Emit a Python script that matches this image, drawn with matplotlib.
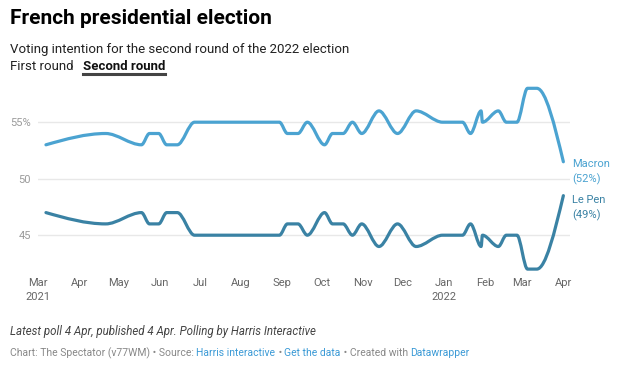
import matplotlib
matplotlib.use("Agg")
import matplotlib.pyplot as plt
import matplotlib.dates as mdates
from matplotlib.path import Path
from matplotlib.patches import PathPatch
import numpy as np
import datetime as dt

plt.rcParams['font.family'] = ['Roboto', 'DejaVu Sans']

# ---- data ----
poll_dates = ["2021-03-07", "2021-04-21", "2021-05-18", "2021-05-24", "2021-05-31",
              "2021-06-06", "2021-06-14", "2021-06-27", "2021-08-30", "2021-09-05",
              "2021-09-13", "2021-09-20", "2021-10-03", "2021-10-09", "2021-10-17",
              "2021-10-24", "2021-10-31", "2021-11-13", "2021-11-27", "2021-12-11",
              "2021-12-31", "2022-01-15", "2022-01-21", "2022-01-29", "2022-01-30",
              "2022-02-11", "2022-02-17", "2022-02-25", "2022-03-05", "2022-03-12",
              "2022-04-01"]
macron = [53, 54, 53, 54, 54, 53, 53, 55, 55, 54, 54, 55, 53, 54, 54, 55, 54, 56, 54, 56,
          55, 55, 54, 56, 55, 56, 55, 55, 58, 58, 51.5]
le_pen = [47, 46, 47, 46, 46, 47, 47, 45, 45, 46, 46, 45, 47, 46, 46, 45, 46, 44, 46, 44,
          45, 45, 46, 44, 45, 44, 45, 45, 42, 42, 48.5]
series_names = ["Macron", "Le Pen"]
end_labels = ["52%", "49%"]
y_ticks = [45, 50, 55]
y_tick_labels = ["45", "50", "55%"]
month_ticks = ["2021-03-01", "2021-04-01", "2021-05-01", "2021-06-01", "2021-07-01",
               "2021-08-01", "2021-09-01", "2021-10-01", "2021-11-01", "2021-12-01",
               "2022-01-01", "2022-02-01", "2022-03-01", "2022-04-01"]
month_labels = ["Mar\n2021", "Apr", "May", "Jun", "Jul", "Aug", "Sep", "Oct", "Nov", "Dec",
                "Jan\n2022", "Feb", "Mar", "Apr"]

C_MACRON = "#4ba3d1"
C_LEPEN = "#3a82a4"


def to_num(s):
    return mdates.date2num(dt.datetime.strptime(s, "%Y-%m-%d"))


xs = np.array([to_num(d) for d in poll_dates])


def monotone_path(x, y):
    """d3 curveMonotoneX rendered as cubic Bezier segments."""
    x = np.asarray(x, float); y = np.asarray(y, float)
    n = len(x)
    h = np.diff(x)
    s = np.diff(y) / h
    t = np.zeros(n)
    for i in range(1, n - 1):
        s0, s1 = s[i - 1], s[i]
        p = (s0 * h[i] + s1 * h[i - 1]) / (h[i - 1] + h[i])
        t[i] = (np.sign(s0) + np.sign(s1)) * min(abs(s0), abs(s1), 0.5 * abs(p))
    t[0] = (3 * s[0] - t[1]) / 2
    t[-1] = (3 * s[-1] - t[-2]) / 2
    verts = [(x[0], y[0])]
    codes = [Path.MOVETO]
    for i in range(n - 1):
        dx = (x[i + 1] - x[i]) / 3
        verts += [(x[i] + dx, y[i] + dx * t[i]),
                  (x[i + 1] - dx, y[i + 1] - dx * t[i + 1]),
                  (x[i + 1], y[i + 1])]
        codes += [Path.CURVE4] * 3
    return Path(verts, codes)


W, H = 620, 376
fig = plt.figure(figsize=(W / 100, H / 100), dpi=100)
fig.patch.set_facecolor("white")

ax_left, ax_right = 38, 570
ax_top, ax_bottom = 82.65, 274.75
ax = fig.add_axes([ax_left / W, 1 - ax_bottom / H, (ax_right - ax_left) / W,
                   (ax_bottom - ax_top) / H])
ax.set_xlim(to_num("2021-03-01"), to_num("2022-04-06"))
ax.set_ylim(41.5, 58.5)

for spine in ax.spines.values():
    spine.set_visible(False)

for yv in y_ticks:
    ax.axhline(yv, color="#e8e8e8", lw=1, zorder=0)

ax.set_yticks(y_ticks)
ax.set_yticklabels(y_tick_labels)
ax.tick_params(axis="y", length=0, pad=5, labelsize=8, labelcolor="#9a9a9a")

ax.set_xticks([to_num(d) for d in month_ticks])
ax.set_xticklabels(month_labels, linespacing=1.45)
ax.tick_params(axis="x", length=0, pad=2.5, labelsize=8, labelcolor="#666666")

for vals, col in [(macron, C_MACRON), (le_pen, C_LEPEN)]:
    patch = PathPatch(monotone_path(xs, vals), facecolor="none", edgecolor=col,
                      lw=2.3, capstyle="round", joinstyle="round", zorder=3)
    ax.add_patch(patch)

# end labels
lab_x = ax_right + 2
for name, lab, col, ypx in [(series_names[0], end_labels[0], C_MACRON, 172),
                            (series_names[1], end_labels[1], C_LEPEN, 208)]:
    fig.text(lab_x / W, 1 - ypx / H, f"{name}\n({lab})", color=col, fontsize=8,
             ha="left", va="center", linespacing=1.45)

# title / subtitle
fig.text(10 / W, 1 - 18 / H, "French presidential election", fontsize=15,
         fontweight="bold", color="#000000", va="center", ha="left")
fig.text(10 / W, 1 - 49 / H, "Voting intention for the second round of the 2022 election",
         fontsize=9.5, color="#222222", va="center", ha="left")
fig.text(10 / W, 1 - 66 / H, "First round", fontsize=9.5, color="#222222",
         va="center", ha="left")
t2 = fig.text(83 / W, 1 - 66 / H, "Second round", fontsize=9.5, color="#111111",
              fontweight="bold", va="center", ha="left")
fig.canvas.draw()
r = fig.canvas.get_renderer()
bb = t2.get_window_extent(r)
fig.add_artist(plt.Line2D([bb.x0 / W, bb.x1 / W], [1 - 74 / H, 1 - 74 / H],
                          transform=fig.transFigure, color="#444444", lw=2.2))

# footer
fig.text(10 / W, 1 - 331 / H,
         "Latest poll 4 Apr, published 4 Apr. Polling by Harris Interactive",
         fontsize=8.3, style="italic", color="#444444", va="center", ha="left")

segments = [("Chart: The Spectator (v77WM) • Source: ", "#888888"),
            ("Harris interactive", "#3b9ad6"),
            (" • ", "#888888"),
            ("Get the data", "#3b9ad6"),
            (" • Created with ", "#888888"),
            ("Datawrapper", "#3b9ad6")]
x_cursor = 10.0
base_y = 1 - 356 / H
for txt, col in segments:
    t = fig.text(x_cursor / W, base_y, txt, fontsize=7.5, color=col,
                 va="baseline", ha="left")
    fig.canvas.draw()
    x_cursor = t.get_window_extent(r).x1

fig.savefig("out.png", dpi=100, facecolor="white")
